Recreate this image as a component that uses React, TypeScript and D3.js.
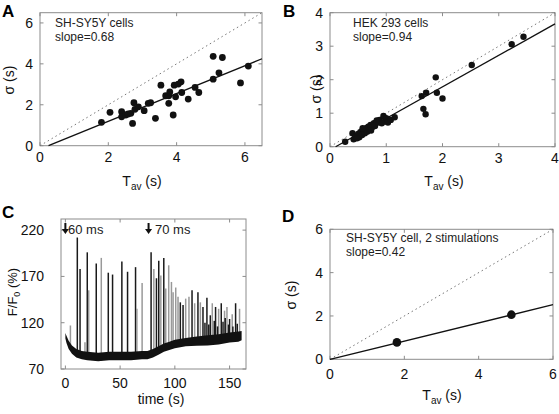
import React from "react";
import * as d3 from "d3";

// ---------- Data ----------
const aPoints: [number, number][] = [
  [1.80, 1.14], [2.05, 1.63], [2.39, 1.66], [2.39, 1.41], [2.51, 1.50], [2.58, 1.55],
  [2.66, 1.58], [2.71, 1.09], [2.75, 2.10], [2.78, 1.78], [2.88, 1.90], [3.05, 1.71],
  [3.17, 2.07], [3.24, 2.10], [3.38, 1.34], [3.54, 2.96], [3.68, 2.44], [3.77, 2.44],
  [3.80, 2.63], [3.77, 2.07], [3.90, 1.50], [3.93, 2.96], [3.97, 2.39], [4.05, 3.01],
  [4.13, 3.12], [4.15, 2.60], [4.34, 2.28], [4.54, 2.85], [4.65, 2.60], [5.07, 3.25],
  [5.07, 4.37], [5.24, 3.56], [5.34, 4.31], [5.87, 3.07], [6.10, 3.89],
];
const aSlope = 0.68;
const aIntercept = -0.17;

const bPoints: [number, number][] = [
  [0.27, 0.15], [0.40, 0.40], [0.42, 0.22], [0.45, 0.30], [0.50, 0.38], [0.52, 0.28],
  [0.55, 0.45], [0.57, 0.35], [0.60, 0.50], [0.62, 0.40], [0.64, 0.55], [0.66, 0.45],
  [0.68, 0.60], [0.70, 0.50], [0.72, 0.65], [0.75, 0.58], [0.78, 0.70], [0.80, 0.62],
  [0.83, 0.78], [0.86, 0.72], [0.88, 0.80], [0.95, 0.92], [0.97, 0.75], [1.00, 0.85],
  [1.03, 0.72], [1.08, 0.80], [1.15, 0.88], [1.63, 1.51], [1.66, 1.13], [1.70, 0.97],
  [1.71, 1.61], [1.88, 2.07], [1.90, 1.61], [2.00, 1.44], [2.52, 2.44], [3.23, 3.06],
  [3.44, 3.28], [0.48, 0.25], [0.58, 0.55], [0.73, 0.48], [0.92, 0.70],
];
const bSlope = 0.94;
const bIntercept = -0.094;

const dPoints: [number, number][] = [[1.8, 0.78], [4.88, 2.06]];
const dSlope = 0.42;
const dIntercept = 0;

const aTicks = [0, 2, 4, 6];
const bTicks = [0, 1, 2, 3, 4];
const dTicks = [0, 2, 4, 6];
const cXTicks = [0, 50, 100, 150];
const cYTicks = [70, 120, 170, 220];

// Panel C: baseline trace
const cBaseT = [0, 1, 3, 6, 10, 15, 20, 30, 40, 50, 60, 70, 75, 80, 85, 90, 95, 100, 110, 120, 130, 140, 150, 158, 161];
const cBaseV = [106, 102, 96, 91, 87, 85, 84, 83, 84, 84, 84, 85, 85, 87, 90, 93, 95, 97, 99, 100, 101, 102, 104, 105, 106];
const cBaseHalf = [3, 4, 4.5, 4.5, 4.5, 4.5, 4.5, 4.5, 4.5, 4.5, 4.5, 4.5, 4.5, 4.5, 4.5, 4.5, 4.5, 4.5, 4.5, 5, 5.5, 5.5, 5.5, 5.5, 5];

// Panel C: transients (time, peak, shade 0=dark 1=grey)
const cSpikeT = [4.6, 10.9, 13.4, 17.9, 20, 21.3, 28.2, 32.8, 39.2, 43.1, 51.6, 56.8, 64.1, 65.3, 70.1, 78.3,
  80.8, 83.2, 85.3, 87.2, 89.9, 91.7, 94.4, 96.9, 98.4, 100.8, 102.9, 105, 107.5, 109.9, 112.9, 115.7,
  118.1, 121.1, 123.3, 125.7, 129.3, 132.4, 134.2, 137.2, 140, 142.4, 145.4, 147.6, 150, 152.4, 155.5, 159.1,
  127.5, 131, 136, 139, 144, 146, 149, 153, 157];
const cSpikeV = [117, 212, 178, 99, 196, 155, 184, 190, 174, 172, 186, 175, 180, 135, 163, 196,
  178, 168, 187, 171, 190, 157, 182, 164, 153, 158, 148, 142, 139, 146, 148, 155,
  141, 153, 142, 137, 147, 128, 141, 137, 135, 141, 133, 137, 124, 129, 141, 135,
  120, 118, 122, 116, 121, 125, 118, 116, 119];
const cSpikeShade = [1, 0, 0, 1, 0, 1, 0, 1, 0, 0, 0, 0, 0, 1, 1, 0,
  1, 0, 0, 1, 0, 1, 1, 1, 1, 1, 1, 0, 0, 1, 1, 0,
  1, 0, 1, 0, 0, 0, 1, 0, 1, 0, 1, 1, 0, 1, 0, 1,
  0, 0, 0, 0, 0, 0, 0, 0, 0];

const FONT = "'Liberation Sans', Arial, Helvetica, sans-serif";
const BOX = "#8c8c8c";

type Sc = d3.ScaleLinear<number, number>;

function Box({ x, y, xt, yt }: { x: Sc; y: Sc; xt: number[]; yt: number[] }) {
  const [x0, x1] = x.range();
  const [y0, y1] = y.range();
  const L = 3.5;
  return (
    <g>
      <rect x={x0} y={y1} width={x1 - x0} height={y0 - y1} fill="none" stroke={BOX} strokeWidth={1} />
      {xt.map((t) => (
        <g key={"x" + t}>
          <line x1={x(t)} x2={x(t)} y1={y0} y2={y0 - L} stroke={BOX} />
          <line x1={x(t)} x2={x(t)} y1={y1} y2={y1 + L} stroke={BOX} />
        </g>
      ))}
      {yt.map((t) => (
        <g key={"y" + t}>
          <line x1={x0} x2={x0 + L} y1={y(t)} y2={y(t)} stroke={BOX} />
          <line x1={x1} x2={x1 - L} y1={y(t)} y2={y(t)} stroke={BOX} />
        </g>
      ))}
    </g>
  );
}

function TickLabels({ x, y, xt, yt, xBase, yEnd }: { x: Sc; y: Sc; xt: number[]; yt: number[]; xBase: number; yEnd: number }) {
  return (
    <g fontFamily={FONT} fontSize={14} fill="#111">
      {xt.map((t) => (
        <text key={"xl" + t} x={x(t)} y={xBase} textAnchor="middle">{t}</text>
      ))}
      {yt.map((t) => (
        <text key={"yl" + t} x={yEnd} y={y(t) + 5} textAnchor="end">{t}</text>
      ))}
    </g>
  );
}

function TavLabel({ cx, base }: { cx: number; base: number }) {
  return (
    <text x={cx} y={base} textAnchor="middle" fontFamily={FONT} fontSize={14} fill="#111">
      T<tspan dy={4} fontSize={10}>av</tspan><tspan dy={-4}> (s)</tspan>
    </text>
  );
}

function SigmaLabel({ x, cy }: { x: number; cy: number }) {
  return (
    <text transform={`translate(${x},${cy}) rotate(-90)`} textAnchor="middle" fontFamily={FONT} fontSize={14} fill="#111">
      σ (s)
    </text>
  );
}

function Scatter({ x, y, pts, slope, icpt, r, id }: { x: Sc; y: Sc; pts: [number, number][]; slope: number; icpt: number; r: number; id: string }) {
  const [dx0, dx1] = x.domain();
  const [dy0, dy1] = y.domain();
  const xStart = Math.max(dx0, (dy0 - icpt) / slope);
  const xEnd = Math.min(dx1, (dy1 - icpt) / slope);
  const idEnd = Math.min(dx1, dy1);
  const line = d3.line<[number, number]>().x((d) => x(d[0])).y((d) => y(d[1]));
  return (
    <g>
      <path d={line([[0, 0], [idEnd, idEnd]]) || ""} stroke="#777" strokeWidth={1} strokeDasharray="1.5,3" fill="none" />
      <path d={line([[xStart, slope * xStart + icpt], [xEnd, slope * xEnd + icpt]]) || ""} stroke="#111" strokeWidth={1.3} fill="none" />
      {pts.map((p, i) => (
        <circle key={id + i} cx={x(p[0])} cy={y(p[1])} r={r} fill="#111" />
      ))}
    </g>
  );
}

export default function App() {
  const ax = d3.scaleLinear().domain([0, 6.5]).range([40, 262]);
  const ay = d3.scaleLinear().domain([0, 6.5]).range([145.7, 12.7]);
  const bx = d3.scaleLinear().domain([0, 4]).range([330, 555]);
  const by = d3.scaleLinear().domain([0, 4]).range([146.7, 12.7]);
  const cx = d3.scaleLinear().domain([-4, 165]).range([61, 246]);
  const cy = d3.scaleLinear().domain([70, 232]).range([369, 219]);
  const dx = d3.scaleLinear().domain([0, 6]).range([330, 553]);
  const dy = d3.scaleLinear().domain([0, 6]).range([359.3, 229.3]);

  const baseData = cBaseT.map((t, i) => ({ t, v: cBaseV[i], h: cBaseHalf[i] }));
  const band = d3.area<{ t: number; v: number; h: number }>()
    .x((d) => cx(d.t))
    .y0((d) => cy(d.v - d.h))
    .y1((d) => cy(d.v + d.h));
  const baseInterp = d3.scaleLinear().domain(cBaseT).range(cBaseV);

  const arrow = (px: number, top: number) =>
    `M${px - 1},${top} L${px + 1},${top} L${px + 1},${top + 6} L${px + 3.5},${top + 6} L${px},${top + 11} L${px - 3.5},${top + 6} L${px - 1},${top + 6} Z`;

  return (
    <svg width={559} height={414} style={{ position: "absolute", left: 0, top: 0, background: "#fff" }}>
      {/* Panel labels */}
      <g fontFamily={FONT} fontWeight="bold" fontSize={17} fill="#000">
        <text x={2} y={17}>A</text>
        <text x={283} y={17}>B</text>
        <text x={2} y={218}>C</text>
        <text x={282} y={222}>D</text>
      </g>

      {/* Panel A */}
      <Box x={ax} y={ay} xt={aTicks} yt={aTicks} />
      <Scatter x={ax} y={ay} pts={aPoints} slope={aSlope} icpt={aIntercept} r={3.4} id="a" />
      <TickLabels x={ax} y={ay} xt={aTicks} yt={aTicks} xBase={162} yEnd={33} />
      <TavLabel cx={142} base={186} />
      <SigmaLabel x={14} cy={80} />
      <g fontFamily={FONT} fontSize={12} fill="#222">
        <text x={55} y={27}>SH-SY5Y cells</text>
        <text x={55} y={41}>slope=0.68</text>
      </g>

      {/* Panel B */}
      <Box x={bx} y={by} xt={bTicks} yt={bTicks} />
      <Scatter x={bx} y={by} pts={bPoints} slope={bSlope} icpt={bIntercept} r={3.2} id="b" />
      <TickLabels x={bx} y={by} xt={bTicks} yt={bTicks} xBase={163} yEnd={323} />
      <TavLabel cx={444} base={186} />
      <SigmaLabel x={321} cy={89} />
      <g fontFamily={FONT} fontSize={12} fill="#222">
        <text x={353} y={27}>HEK 293 cells</text>
        <text x={353} y={41}>slope=0.94</text>
      </g>

      {/* Panel C */}
      <Box x={cx} y={cy} xt={cXTicks} yt={cYTicks} />
      <g>
        {cSpikeT.map((t, i) => (
          <line key={"s" + i} x1={cx(t)} x2={cx(t)} y1={cy(baseInterp(t))} y2={cy(cSpikeV[i])}
            stroke={cSpikeShade[i] ? "#999" : "#1a1a1a"} strokeWidth={1.5} />
        ))}
        <path d={band(baseData) || ""} fill="#111" />
      </g>
      <TickLabels x={cx} y={cy} xt={cXTicks} yt={cYTicks} xBase={388} yEnd={44} />
      <text x={161} y={404} textAnchor="middle" fontFamily={FONT} fontSize={14} fill="#111">time (s)</text>
      <text transform="translate(17,292) rotate(-90)" textAnchor="middle" fontFamily={FONT} fontSize={13} fill="#111">
        F/F<tspan dy={3} fontSize={9}>0</tspan><tspan dy={-3}> (%)</tspan>
      </text>
      <path d={arrow(cx(0), 223)} fill="#111" />
      <path d={arrow(cx(76), 223)} fill="#111" />
      <g fontFamily={FONT} fontSize={13} fill="#222">
        <text x={68} y={234}>60 ms</text>
        <text x={155} y={234}>70 ms</text>
      </g>

      {/* Panel D */}
      <Box x={dx} y={dy} xt={dTicks} yt={dTicks} />
      <Scatter x={dx} y={dy} pts={dPoints} slope={dSlope} icpt={dIntercept} r={4.3} id="d" />
      <TickLabels x={dx} y={dy} xt={dTicks} yt={dTicks} xBase={379} yEnd={323} />
      <TavLabel cx={442} base={400} />
      <SigmaLabel x={296} cy={295} />
      <g fontFamily={FONT} fontSize={12} fill="#222">
        <text x={346} y={242}>SH-SY5Y cell, 2 stimulations</text>
        <text x={346} y={256}>slope=0.42</text>
      </g>
    </svg>
  );
}
